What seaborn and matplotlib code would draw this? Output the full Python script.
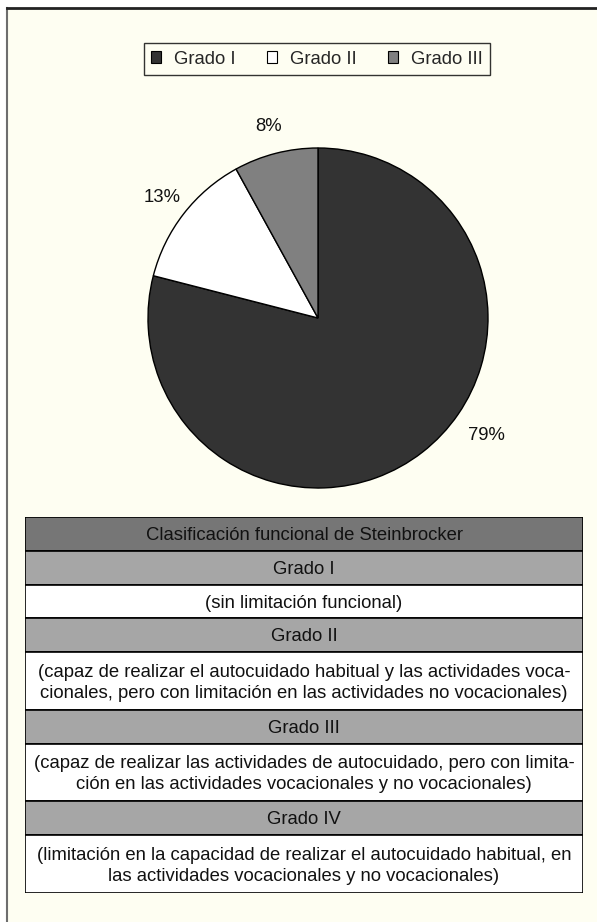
import numpy as np
import matplotlib
matplotlib.use("Agg")
import matplotlib.pyplot as plt
from matplotlib.patches import Patch
import seaborn as sns

sns.set_theme(style="white")
plt.rcParams['font.family'] = ['Liberation Sans', 'DejaVu Sans']

# Datos
grados = ["Grado I", "Grado II", "Grado III"]
porcentajes = [79, 13, 8]
colores_pie = ["#333333", "#ffffff", "#808080"]

titulo_tabla = "Clasificación funcional de Steinbrocker"
grados_tabla = ["Grado I", "Grado II", "Grado III", "Grado IV"]
descripciones = [
    "(sin limitación funcional)",
    "(capaz de realizar el autocuidado habitual y las actividades voca-\n"
    "cionales, pero con limitación en las actividades no vocacionales)",
    "(capaz de realizar las actividades de autocuidado, pero con limita-\n"
    "ción en las actividades vocacionales y no vocacionales)",
    "(limitación en la capacidad de realizar el autocuidado habitual, en\n"
    "las actividades vocacionales y no vocacionales)",
]

W, H = 597, 922
fs = 13.3
fondo = "#fefef2"
fig = plt.figure(figsize=(W / 100, H / 100), dpi=100, facecolor="white")

# marco de fondo
bg = fig.add_axes([7 / W, 0, 1 - 7 / W, 1 - 8 / H])
bg.set_facecolor(fondo)
bg.set_xticks([]); bg.set_yticks([])
for s in ["right", "bottom"]:
    bg.spines[s].set_visible(False)
bg.spines["top"].set_color("#222222"); bg.spines["top"].set_linewidth(2)
bg.spines["left"].set_color("#6e6e6e"); bg.spines["left"].set_linewidth(1.5)

# pastel
cx, cy, r = 318, 318, 170
ax = fig.add_axes([(cx - r) / W, 1 - (cy + r) / H, 2 * r / W, 2 * r / H])
ax.set_facecolor("none")
wedges, _, autotexts = ax.pie(
    porcentajes, colors=colores_pie, startangle=90, counterclock=False,
    autopct="%d%%", pctdistance=1.16, radius=1,
    wedgeprops=dict(edgecolor="black", linewidth=1),
    textprops=dict(fontsize=fs, color="#111111"))
# la etiqueta del 79% no va en el centro del sector
ang = np.deg2rad(-35)
autotexts[0].set_position((1.21 * np.cos(ang), 1.21 * np.sin(ang)))
ax.set_xlim(-1, 1); ax.set_ylim(-1, 1)
ax.set_aspect("equal")
ax.axis("off")

handles = [Patch(facecolor=c, edgecolor="black", linewidth=0.8) for c in colores_pie]
leg = fig.legend(handles, grados, loc="center", bbox_to_anchor=(317 / W, 1 - 59 / H),
                 ncol=3, fontsize=fs, frameon=True, fancybox=False,
                 handlelength=0.55, handleheight=0.6, handletextpad=0.7,
                 columnspacing=1.7, borderpad=0.4, edgecolor="black")
leg.get_frame().set_facecolor(fondo)
leg.get_frame().set_linewidth(1)

# tabla
filas, tipos = [titulo_tabla], ["titulo"]
for g, d in zip(grados_tabla, descripciones):
    filas += [g, d]
    tipos += ["grado", "desc"]
alturas = [10 + 24 * (f.count("\n") + 1) for f in filas]
colores_fila = {"titulo": "#767676", "grado": "#a6a6a6", "desc": "#ffffff"}

tx0, tx1, ty0, ty1 = 25, 583, 517, 893
axt = fig.add_axes([tx0 / W, 1 - ty1 / H, (tx1 - tx0) / W, (ty1 - ty0) / H])
inicio = np.concatenate([[0], np.cumsum(alturas)[:-1]])
axt.barh(inicio, width=1, height=alturas, left=0, align="edge",
         color=[colores_fila[t] for t in tipos], edgecolor="black", linewidth=1.2)
for y0, h, txt in zip(inicio, alturas, filas):
    axt.text(0.5, y0 + h / 2 + 1.5, txt, ha="center", va="center", fontsize=fs,
             color="#111111", linespacing=1.3)
axt.set_xlim(0, 1)
axt.set_ylim(sum(alturas), 0)
axt.axis("off")

fig.savefig("out.png", dpi=100, facecolor=fig.get_facecolor())
